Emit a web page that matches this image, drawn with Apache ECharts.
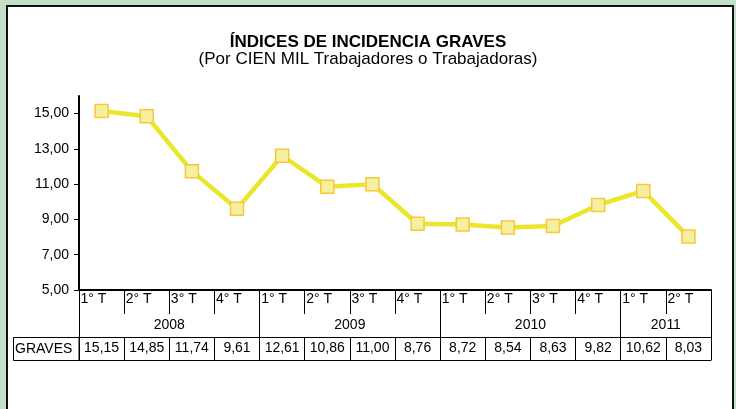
<!DOCTYPE html>
<html>
<head>
<meta charset="utf-8">
<script src="https://cdn.jsdelivr.net/npm/echarts@6/dist/echarts.min.js"></script>
<style>
  html, body { margin: 0; padding: 0; background: #c4e0c7; overflow: hidden; }
  #panel { position: absolute; left: 6px; top: 5px; width: 724px; height: 420px;
           background: #fff; border: 2px solid #111; border-bottom: none; }
  #main { position: absolute; left: 0; top: 0; width: 736px; height: 409px; }
</style>
</head>
<body>
<div id="panel"></div>
<div id="main"></div>
<script>
var myChart = echarts.init(document.getElementById('main'));

// datos del gráfico
var quarters = ['1° T', '2° T', '3° T', '4° T', '1° T', '2° T', '3° T', '4° T',
                '1° T', '2° T', '3° T', '4° T', '1° T', '2° T'];
var graves = [15.15, 14.85, 11.74, 9.61, 12.61, 10.86, 11.00, 8.76,
              8.72, 8.54, 8.63, 9.82, 10.62, 8.03];
var years = ['2008', '2009', '2010', '2011'];
var yearBounds = [0, 4, 8, 12, 14];     // límites de cada año (en trimestres)
var yearCenters = [2, 6, 10, 13];
var yTicks = [5, 7, 9, 11, 13, 15];

var fmt = function (v) { return v.toFixed(2).replace('.', ','); };
var font = 'Liberation Sans, Arial, sans-serif';

option = {
    animation: false,
    textStyle: { fontFamily: font },
    title: {
        left: 'center',
        top: 29,
        itemGap: 0,
        text: 'ÍNDICES DE INCIDENCIA GRAVES',
        textStyle: { color: '#000', fontSize: 17, fontWeight: 'bold', fontFamily: font },
        subtext: '(Por CIEN MIL Trabajadores o Trabajadoras)',
        subtextStyle: { color: '#000', fontSize: 17, fontFamily: font }
    },
    grid: { left: 79, right: 25, top: 96, bottom: 119, containLabel: false },
    yAxis: {
        type: 'value',
        min: 5,
        max: 16,
        interval: 2,
        axisLine: { show: true, lineStyle: { color: '#000', width: 2 } },
        axisTick: { show: true, customValues: yTicks, length: 5, lineStyle: { color: '#000' } },
        axisLabel: {
            customValues: yTicks,
            color: '#000', fontSize: 14, margin: 10,
            formatter: function (v) { return fmt(v); }
        },
        splitLine: { show: false }
    },
    xAxis: [
        {
            // fila de trimestres
            type: 'category',
            data: quarters,
            position: 'bottom',
            axisLine: { show: true, onZero: false, lineStyle: { color: '#000', width: 2 } },
            axisTick: { show: true, interval: 0, length: 24, lineStyle: { color: '#000' } },
            axisLabel: {
                interval: 0, color: '#000', fontSize: 14, margin: 2,
                formatter: function (v) { return '{a|' + v + '}'; },
                rich: { a: { width: 42, align: 'left', fontSize: 14, color: '#000' } }
            }
        },
        {
            // fila de años
            type: 'value',
            min: 0,
            max: 14,
            position: 'bottom',
            axisLine: { show: false, onZero: false },
            axisTick: { show: true, customValues: yearBounds, length: 47, lineStyle: { color: '#000' } },
            axisLabel: {
                customValues: yearCenters,
                color: '#000', fontSize: 14, margin: 28,
                formatter: function (v) { return years[yearCenters.indexOf(v)]; }
            },
            splitLine: { show: false }
        },
        {
            // fila de valores
            type: 'category',
            data: quarters,
            position: 'bottom',
            offset: 47,
            axisLine: { show: true, onZero: false, lineStyle: { color: '#000', width: 1 } },
            axisTick: { show: true, interval: 0, length: 23, lineStyle: { color: '#000' } },
            axisLabel: {
                interval: 0, color: '#000', fontSize: 14, margin: 4,
                formatter: function (v, i) { return fmt(graves[i]); }
            }
        },
        {
            type: 'category',
            data: quarters,
            position: 'bottom',
            offset: 70,
            axisLine: { show: true, onZero: false, lineStyle: { color: '#000', width: 1 } },
            axisTick: { show: false },
            axisLabel: { show: false }
        }
    ],
    graphic: [
        {
            type: 'rect',
            shape: { x: 13.5, y: 337.5, width: 65.5, height: 23 },
            style: { fill: '#fff', stroke: '#000', lineWidth: 1 }
        },
        {
            type: 'text',
            x: 15,
            y: 349,
            style: { text: 'GRAVES', fill: '#000', fontSize: 14, fontFamily: font, verticalAlign: 'middle' }
        }
    ],
    series: [
        {
            name: 'GRAVES',
            type: 'line',
            xAxisIndex: 0,
            data: graves,
            symbol: 'rect',
            symbolSize: 13,
            lineStyle: { color: '#ece62a', width: 4.5 },
            itemStyle: { color: '#f4f0a0', borderColor: '#f7c73c', borderWidth: 1.5 }
        }
    ]
};

myChart.setOption(option);
</script>
</body>
</html>
